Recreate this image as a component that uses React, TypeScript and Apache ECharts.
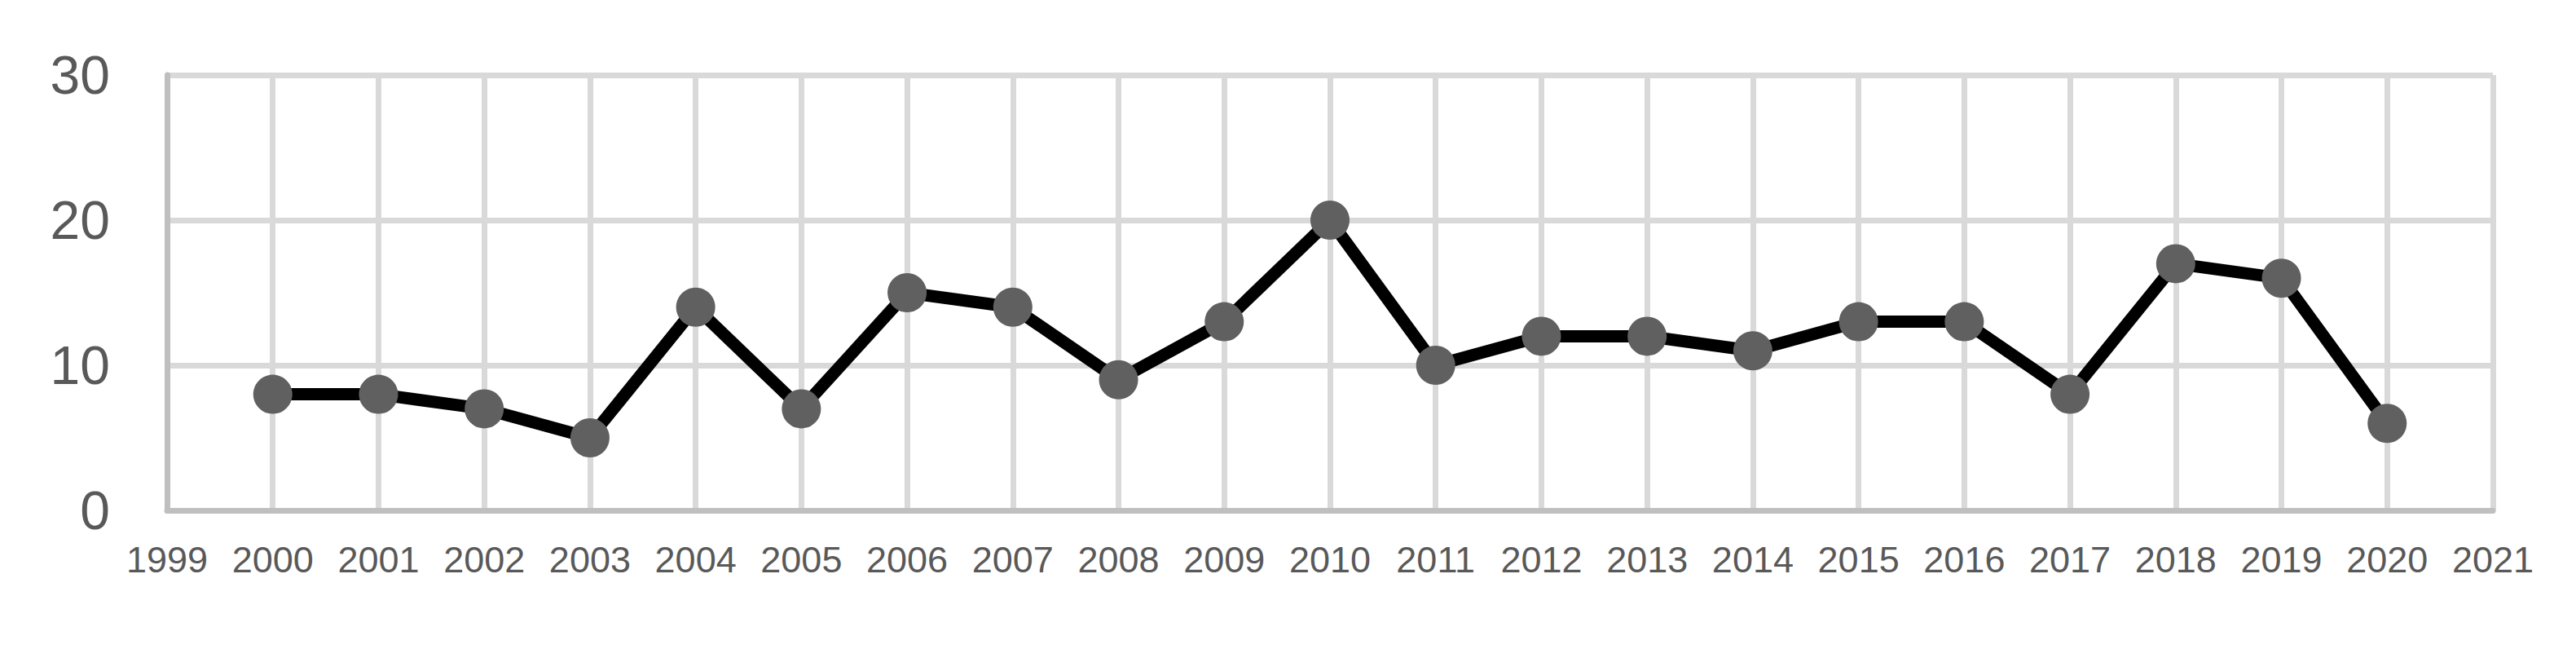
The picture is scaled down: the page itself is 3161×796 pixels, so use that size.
import React, { useEffect, useRef } from "react";
import * as echarts from "echarts";

const years = [2000, 2001, 2002, 2003, 2004, 2005, 2006, 2007, 2008, 2009, 2010, 2011, 2012, 2013, 2014, 2015, 2016, 2017, 2018, 2019, 2020];
const values = [8, 8, 7, 5, 14, 7, 15, 14, 9, 13, 20, 10, 12, 12, 11, 13, 13, 8, 17, 16, 6];
const xMin = 1999;
const xMax = 2021;
const yMin = 0;
const yMax = 30;
const yStep = 10;

export default function App() {
  const ref = useRef<HTMLDivElement>(null);
  useEffect(() => {
    if (!ref.current) return;
    const chart = echarts.init(ref.current, undefined, { renderer: "svg" });
    chart.setOption({
      animation: false,
      backgroundColor: "#ffffff",
      grid: { left: 205, right: 102, top: 92, bottom: 170 },
      xAxis: {
        type: "value",
        min: xMin,
        max: xMax,
        interval: 1,
        axisLine: { show: true, onZero: false, lineStyle: { color: "#bfbfbf", width: 7 } },
        axisTick: { show: false },
        axisLabel: {
          margin: 38,
          fontSize: 45,
          color: "#595959",
          fontFamily: "Liberation Sans",
          formatter: (v: number) => String(v),
        },
        splitLine: { show: true, showMinLine: false, lineStyle: { color: "#d9d9d9", width: 7 } },
      },
      yAxis: {
        type: "value",
        min: yMin,
        max: yMax,
        interval: yStep,
        axisLine: { show: true, lineStyle: { color: "#bfbfbf", width: 7 } },
        axisTick: { show: false },
        axisLabel: {
          margin: 70,
          fontSize: 66,
          color: "#595959",
          fontFamily: "Liberation Sans",
        },
        splitLine: { show: true, showMinLine: false, lineStyle: { color: "#d9d9d9", width: 7 } },
      },
      series: [
        {
          type: "line",
          data: years.map((y, i) => [y, values[i]]),
          lineStyle: { color: "#000000", width: 15 },
          itemStyle: { color: "#606060" },
          symbol: "circle",
          symbolSize: 48,
          showSymbol: true,
        },
      ],
    });
    return () => chart.dispose();
  }, []);
  return (
    <div
      ref={ref}
      style={{ position: "fixed", left: 0, top: 0, width: 3161, height: 796, background: "#fff" }}
    />
  );
}
